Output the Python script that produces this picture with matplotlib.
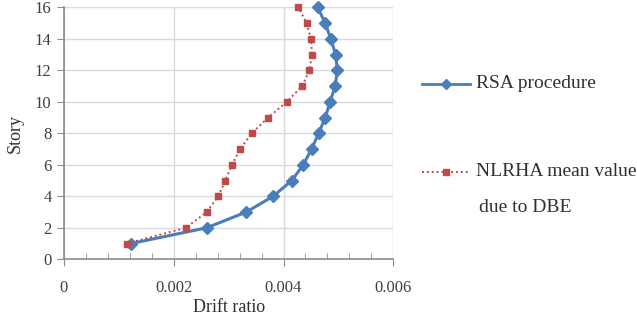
import matplotlib
matplotlib.use("Agg")
import matplotlib.pyplot as plt
from matplotlib.ticker import MultipleLocator

stories = list(range(1, 17))
rsa = [0.00122, 0.00260, 0.00332, 0.00381, 0.00415, 0.00436, 0.00451, 0.00464,
       0.00476, 0.00485, 0.00494, 0.00498, 0.00495, 0.00486, 0.00476, 0.00462]
nlrha = [0.00114, 0.00222, 0.00260, 0.00281, 0.00294, 0.00306, 0.00321, 0.00342,
         0.00372, 0.00406, 0.00434, 0.00447, 0.00452, 0.00450, 0.00442, 0.00427]
xticks = [0, 0.002, 0.004, 0.006]
xticklabels = ["0", "0.002", "0.004", "0.006"]
yticks = list(range(0, 17, 2))
label_rsa = "RSA procedure"
label_nl1 = "NLRHA mean value"
label_nl2 = "due to DBE"

plt.rcParams['font.family'] = ['Liberation Serif', 'DejaVu Serif']
W, H = 637, 316
fig = plt.figure(figsize=(W/100, H/100), dpi=100)
ax = fig.add_axes([64/W, 1-259.3/H, (393.3-64)/W, (259.3-7.3)/H])

blue = "#4A7EBB"
red = "#BE4B48"
ax.plot(rsa, stories, color=blue, lw=2.2, marker="D", ms=6, zorder=3, clip_on=False)
ax.plot(nlrha, stories, color=red, lw=1.4, ls=(0, (1, 1.5)), marker="s", ms=4.5,
        zorder=3, clip_on=False)

ax.set_xlim(0, 0.006)
ax.set_ylim(0, 16)
ax.set_xticks(xticks)
ax.set_xticklabels(xticklabels)
ax.set_yticks(yticks)
ax.xaxis.set_minor_locator(MultipleLocator(0.0004))
ax.grid(True, which="major", color="#D9D9D9", lw=1)
ax.set_axisbelow(True)
for s in ["top", "right"]:
    ax.spines[s].set_visible(False)
for s in ["left", "bottom"]:
    ax.spines[s].set_color("#8C8C8C")
    ax.spines[s].set_linewidth(1.2)
ax.tick_params(axis="both", which="major", direction="out", length=5, color="#8C8C8C",
               labelsize=12, labelcolor="#404040", pad=4)
ax.tick_params(axis="x", which="major", pad=10)
ax.tick_params(axis="x", which="minor", direction="in", length=4, color="#8C8C8C")
ax.set_xlabel("Drift ratio", fontsize=13, color="#303030", labelpad=2)
ax.set_ylabel("Story", fontsize=13, color="#303030", labelpad=8)

# legend drawn in a pixel-coordinate overlay
lax = fig.add_axes([0, 0, 1, 1])
lax.set_xlim(0, W)
lax.set_ylim(H, 0)
lax.axis("off")
lax.plot([422, 470], [84, 84], color=blue, lw=2)
lax.plot([446], [84], color=blue, marker="D", ms=5)
lax.plot([422, 470], [172, 172], color=red, lw=1.4, ls=(0, (1, 1.5)))
lax.plot([446], [172], color=red, marker="s", ms=4)
lax.text(476, 84, label_rsa, fontsize=14, va="center", color="#303030")
lax.text(476, 172, label_nl1, fontsize=14, va="center", color="#303030")
lax.text(479, 207, label_nl2, fontsize=14, va="center", color="#303030")

fig.savefig("out.png", dpi=100)
